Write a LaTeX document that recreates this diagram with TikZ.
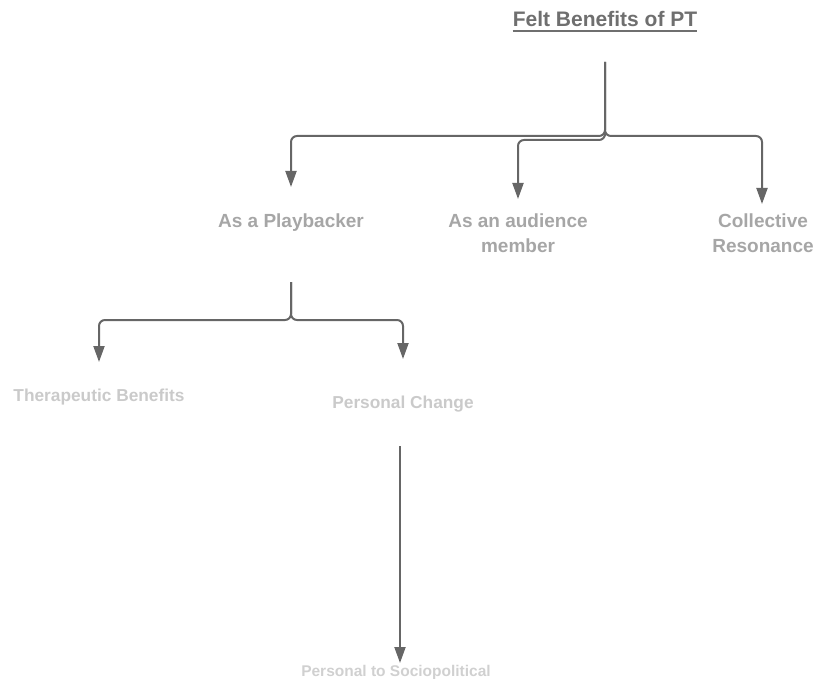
\documentclass[tikz,border=0pt]{standalone}
\usepackage{fontspec}
\setmainfont{Liberation Sans}
\usetikzlibrary{arrows.meta}
\definecolor{linec}{HTML}{666666}
\definecolor{titlec}{HTML}{6F6F6F}
\definecolor{lvla}{HTML}{A6A6A6}
\definecolor{lvlb}{HTML}{CACACA}
\definecolor{lvlc}{HTML}{D0D0D0}
\tikzset{
  conn/.style={draw=linec, line width=2pt, rounded corners=6pt, -{Triangle[length=16pt,width=11pt]}},
  txt/.style={inner sep=0pt, anchor=base, font=\bfseries, align=center},
  title/.style={txt, text=titlec, font=\bfseries\fontsize{21}{25}\selectfont},
  la/.style={txt, text=lvla, font=\bfseries\fontsize{19}{25}\selectfont},
  lb/.style={txt, text=lvlb, font=\bfseries\fontsize{17.3}{21}\selectfont},
  lc/.style={txt, text=lvlc, font=\bfseries\fontsize{15.5}{19}\selectfont},
}
\begin{document}
\begin{tikzpicture}[x=1pt,y=-1pt]
\useasboundingbox (0,0) rectangle (816,679);
% nodes
\node[title] (t) at (605,27) {Felt Benefits of PT};
\draw[titlec, line width=1.6pt] ([yshift=-4pt]t.base west) -- ([yshift=-4pt]t.base east);
\node[la] (n1) at (291,227) {As a Playbacker};
\node[la] (n2) at (518,252) {As an audience\\member};
\node[la] (n3) at (763,252) {Collective\\Resonance};
\node[lb] (m1) at (99,401) {Therapeutic Benefits};
\node[lb] (m2) at (403,408) {Personal Change};
\node[lc] (s1) at (396,676) {Personal to Sociopolitical};
% coordinates
\coordinate (t0) at (605,62);
\coordinate (j0) at (605,136);
\coordinate (jm) at (605,140);
\coordinate (a1) at (291,187);
\coordinate (a2) at (518,199);
\coordinate (a3) at (762,204);
\coordinate (p0) at (291,282);
\coordinate (j1) at (291,320);
\coordinate (b1) at (99,362);
\coordinate (b2) at (403,359);
\coordinate (c0) at (400,446);
\coordinate (c1) at (400,663);
% connectors
\draw[conn] (t0) -- (j0) -| (a1);
\draw[conn] (t0) -- (j0) -| (a3);
\draw[conn] (j0) -- (jm) -| (a2);
\draw[conn] (p0) -- (j1) -| (b1);
\draw[conn] (p0) -- (j1) -| (b2);
\draw[conn] (c0) -- (c1);
\end{tikzpicture}
\end{document}
